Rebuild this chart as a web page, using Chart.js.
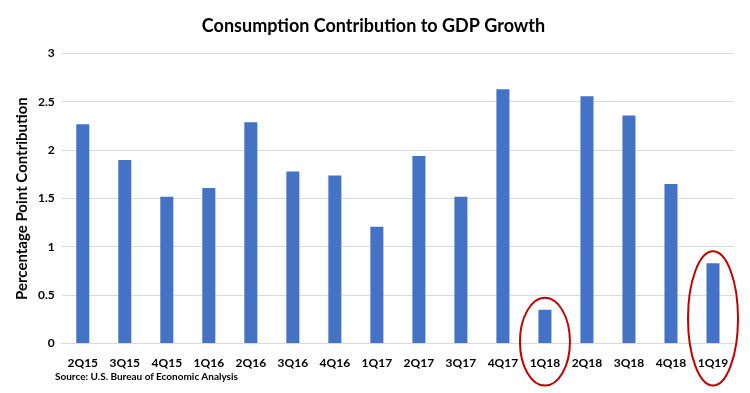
<!DOCTYPE html>
<html>
<head>
<meta charset="utf-8">
<script src="https://cdn.jsdelivr.net/npm/chart.js@4"></script>
<style>
  html, body { margin: 0; padding: 0; background: #fff; }
  #wrap { position: relative; width: 750px; height: 393px; }
  #source { position: absolute; left: 55px; top: 370px; font: bold 10px Lato, sans-serif; color: #000; }
</style>
</head>
<body>
<div id="wrap">
  <canvas id="myChart" width="750" height="393"></canvas>
  <div id="source">Source: U.S. Bureau of Economic Analysis</div>
</div>
<script>
const quarters = ['2Q15','3Q15','4Q15','1Q16','2Q16','3Q16','4Q16','1Q17','2Q17','3Q17','4Q17','1Q18','2Q18','3Q18','4Q18','1Q19'];
const contribution = [2.27, 1.90, 1.52, 1.61, 2.29, 1.78, 1.74, 1.21, 1.94, 1.52, 2.63, 0.35, 2.56, 2.36, 1.65, 0.83];
const yTicks = [0, 0.5, 1, 1.5, 2, 2.5, 3];
const circled = ['1Q18', '1Q19'];

// 강조할 막대에 빨간 타원을 그린다
const circlePlugin = {
  id: 'circles',
  afterDatasetsDraw(chart) {
    const ctx = chart.ctx;
    const x = chart.scales.x, y = chart.scales.y;
    ctx.save();
    ctx.strokeStyle = '#c00000';
    ctx.lineWidth = 2;
    circled.forEach(q => {
      const i = quarters.indexOf(q);
      const cx = x.getPixelForValue(i);
      const top = y.getPixelForValue(contribution[i]) - 12;
      const bottom = y.getPixelForValue(0) + 42;
      ctx.beginPath();
      ctx.ellipse(cx, (top + bottom) / 2, 25, (bottom - top) / 2, 0, 0, Math.PI * 2);
      ctx.stroke();
    });
    ctx.restore();
  }
};

var chartArea = document.getElementById('myChart').getContext('2d');
var myChart = new Chart(chartArea, {
  type: 'bar',
  data: {
    labels: quarters,
    datasets: [{
      data: contribution,
      backgroundColor: '#4472c4',
      barPercentage: 0.31,
      categoryPercentage: 1
    }]
  },
  options: {
    responsive: false,
    animation: false,
    layout: { padding: { left: 13, right: 16, top: 12, bottom: 19 } },
    plugins: {
      legend: { display: false },
      tooltip: { enabled: false },
      title: {
        display: true,
        text: 'Consumption Contribution to GDP Growth',
        color: '#000',
        font: { family: 'Lato', size: 18, weight: 'bold' },
        padding: { top: 3, bottom: 17 }
      }
    },
    scales: {
      x: {
        grid: { display: false },
        border: { color: '#d9d9d9' },
        ticks: { color: '#000', font: { family: 'Lato', size: 12, weight: 'bold' }, maxRotation: 0, padding: 4 }
      },
      y: {
        min: 0,
        max: 3,
        afterBuildTicks(axis) { axis.ticks = yTicks.map(v => ({ value: v })); },
        grid: { color: '#d9d9d9', drawTicks: false },
        border: { display: false },
        ticks: { color: '#000', font: { family: 'Lato', size: 12, weight: 'bold' }, padding: 7, callback: v => String(v) },
        title: {
          display: true,
          text: 'Percentage Point Contribution',
          color: '#000',
          font: { family: 'Lato', size: 15, weight: 'bold' },
          padding: { top: 0, bottom: 0 }
        }
      }
    }
  },
  plugins: [circlePlugin]
});
</script>
</body>
</html>
